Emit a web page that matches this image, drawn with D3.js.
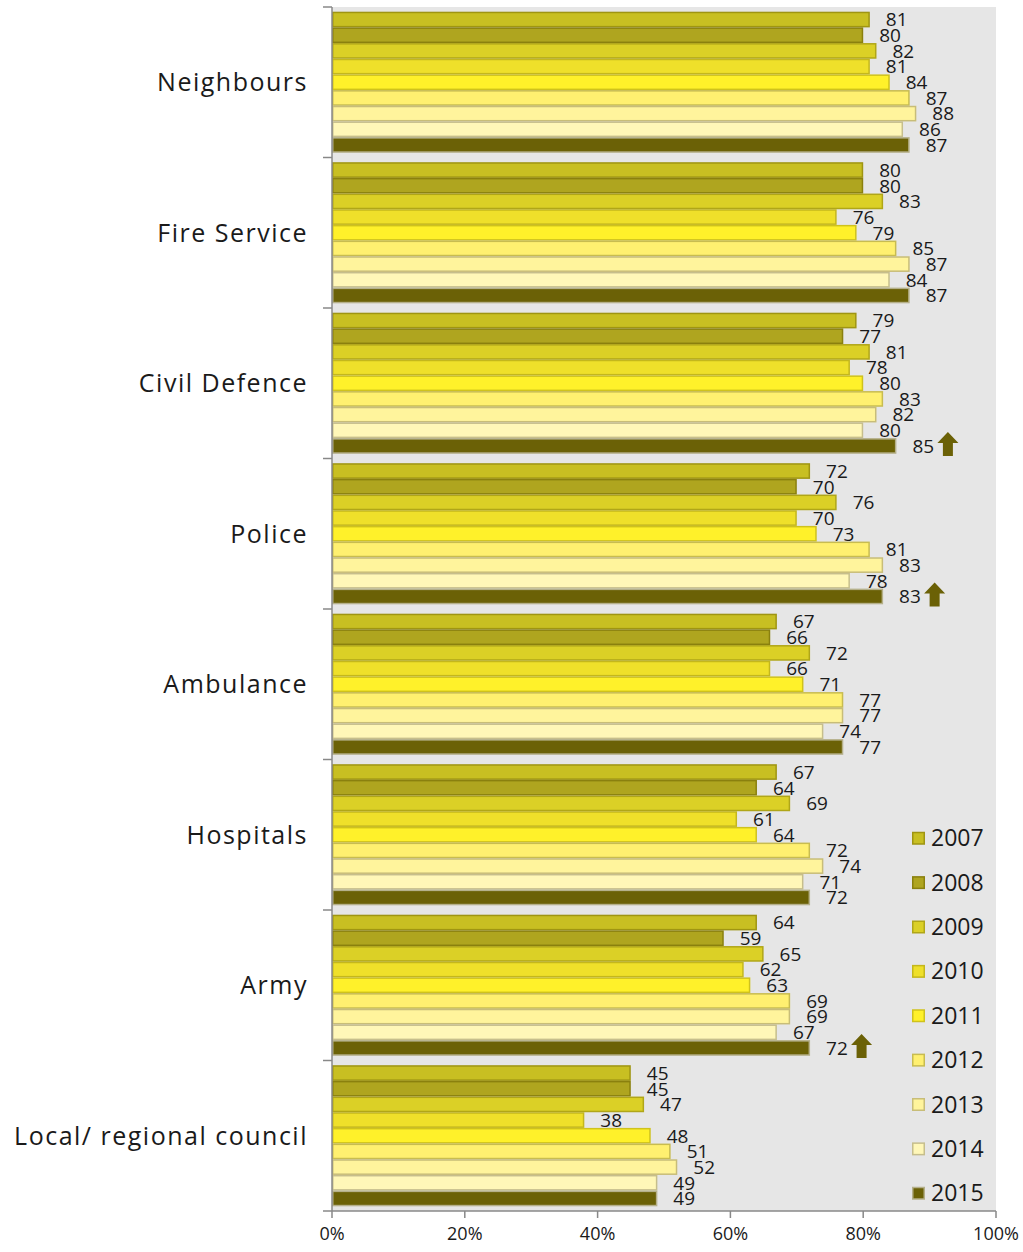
<!DOCTYPE html>
<html><head><meta charset="utf-8">
<script src="https://cdn.jsdelivr.net/npm/d3@7"></script>
<style>
html,body{margin:0;padding:0;background:#fff;}
svg{display:block;}
text{font-family:"Open Sans","Lato",sans-serif;fill:#1a1a1a;}
</style></head>
<body>
<svg id="chart" width="1023" height="1252"></svg>
<script>
const categories = ["Neighbours","Fire Service","Civil Defence","Police","Ambulance","Hospitals","Army","Local/ regional council"];
const years = ["2007","2008","2009","2010","2011","2012","2013","2014","2015"];
const v2007 = [81,80,79,72,67,67,64,45];
const v2008 = [80,80,77,70,66,64,59,45];
const v2009 = [82,83,81,76,72,69,65,47];
const v2010 = [81,76,78,70,66,61,62,38];
const v2011 = [84,79,80,73,71,64,63,48];
const v2012 = [87,85,83,81,77,72,69,51];
const v2013 = [88,87,82,83,77,74,69,52];
const v2014 = [86,84,80,78,74,71,67,49];
const v2015 = [87,87,85,83,77,72,72,49];
const upArrow = ["Civil Defence","Police","Army"];
const xTicks = [0,20,40,60,80,100];
const fills = ["#c8bf22","#afa51f","#dbd026","#efe02a","#fff12a","#fff070","#fff49c","#fff7b8","#6b6106"];
const strokes = ["#9f9512","#8a800e","#b0a618","#c4b71c","#cfc21c","#c8bc50","#c8bd78","#c6be8c","#b5b08a"];

const seriesVals = [v2007,v2008,v2009,v2010,v2011,v2012,v2013,v2014,v2015];

const svg = d3.select("#chart");
const pL = 332, pR = 996, pT = 7, pB = 1211;

const x = d3.scaleLinear().domain([0,100]).range([pL,pR]);
const y = d3.scaleBand().domain(categories).range([pT,pB]).padding(0);
const ySub = d3.scaleBand().domain(years).range([0,y.bandwidth()]).paddingOuter(0.3).paddingInner(0);

svg.append("rect").attr("x",pL).attr("y",pT).attr("width",pR-pL).attr("height",pB-pT).attr("fill","#e6e6e6");

const g = svg.append("g");
categories.forEach((c,ci)=>{
  years.forEach((yr,si)=>{
    const v = seriesVals[si][ci];
    const by = y(c)+ySub(yr);
    g.append("rect")
      .attr("x",x(0)+0.75).attr("y",by+0.75)
      .attr("width",x(v)-x(0)-1.5).attr("height",ySub.bandwidth()-1.5)
      .attr("fill",fills[si]).attr("stroke",strokes[si]).attr("stroke-width",1.5);
    g.append("text")
      .attr("x",x(v)+16).attr("y",by+ySub.bandwidth()/2)
      .attr("dy","0.36em").attr("font-size",19).text(v);
    if (si===years.length-1 && upArrow.includes(c)) {
      const ax = x(v)+41, ay = by+ySub.bandwidth()/2;
      const w=21, hh=11, sw=10, sh=13;
      const cx = ax+w/2, tY = ay-14;
      const pts = [[cx,tY],[ax+w,tY+hh],[cx+sw/2,tY+hh],[cx+sw/2,tY+hh+sh],[cx-sw/2,tY+hh+sh],[cx-sw/2,tY+hh],[ax,tY+hh]];
      g.append("polygon").attr("points",pts.map(p=>p.join(",")).join(" ")).attr("fill","#6b6106");
    }
  });
});

// axes
const axisColor = "#888";
svg.append("line").attr("x1",pL).attr("x2",pL).attr("y1",pT).attr("y2",pB).attr("stroke",axisColor).attr("stroke-width",1.5);
svg.append("line").attr("x1",pL).attr("x2",pR).attr("y1",pB).attr("y2",pB).attr("stroke",axisColor).attr("stroke-width",1.5);
const catBounds = categories.map(c=>y(c)).concat([pB]);
catBounds.forEach(b=>{
  svg.append("line").attr("x1",pL-9).attr("x2",pL).attr("y1",b).attr("y2",b).attr("stroke",axisColor).attr("stroke-width",1.5);
});
xTicks.forEach(t=>{
  svg.append("line").attr("x1",x(t)).attr("x2",x(t)).attr("y1",pB).attr("y2",pB+7).attr("stroke",axisColor).attr("stroke-width",1.5);
  svg.append("text").attr("x",x(t)).attr("y",pB+29).attr("text-anchor","middle").attr("font-size",18).text(t+"%");
});
categories.forEach(c=>{
  svg.append("text").attr("x",308).attr("y",y(c)+y.bandwidth()/2).attr("dy","0.36em")
    .attr("text-anchor","end").attr("font-size",25).attr("letter-spacing",1.5).text(c);
});

// legend
const legY = d3.scalePoint().domain(years).range([838,1193]);
years.forEach((yr,i)=>{
  svg.append("rect").attr("x",912.75).attr("y",legY(yr)-5.5).attr("width",11.5).attr("height",11.5)
    .attr("fill",fills[i]).attr("stroke",strokes[i]).attr("stroke-width",1.5);
  svg.append("text").attr("x",931).attr("y",legY(yr)).attr("dy","0.36em").attr("font-size",23).text(yr);
});
</script>
</body></html>
